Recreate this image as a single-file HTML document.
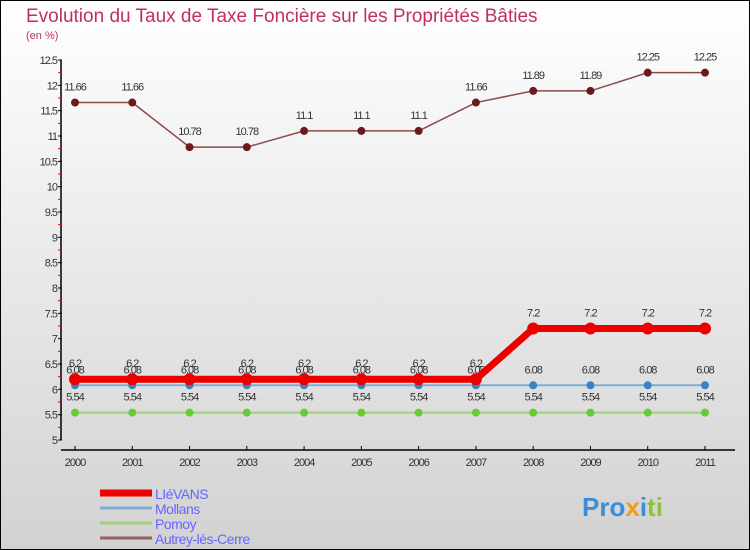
<!DOCTYPE html>
<html><head><meta charset="utf-8"><style>
body{margin:0}
#c{width:750px;height:550px;position:relative;box-sizing:border-box;border:1px solid #000;background:linear-gradient(#fff,#d2d2d2);font-family:"Liberation Sans",sans-serif;overflow:hidden}
</style></head><body>
<div id="c">
<svg id="s" width="750" height="550" style="position:absolute;left:-1px;top:-1px">
<text x="26" y="22" font-size="19" fill="#c0305a">Evolution du Taux de Taxe Foncière sur les Propriétés Bâties</text>
<text x="26" y="39" font-size="11" fill="#c0305a">(en %)</text>
</svg>
</div>
<script>
const years=["2000","2001","2002","2003","2004","2005","2006","2007","2008","2009","2010","2011"];
const llevans=[6.2,6.2,6.2,6.2,6.2,6.2,6.2,6.2,7.2,7.2,7.2,7.2];
const mollans=[6.08,6.08,6.08,6.08,6.08,6.08,6.08,6.08,6.08,6.08,6.08,6.08];
const pomoy=[5.54,5.54,5.54,5.54,5.54,5.54,5.54,5.54,5.54,5.54,5.54,5.54];
const autrey=[11.66,11.66,10.78,10.78,11.1,11.1,11.1,11.66,11.89,11.89,12.25,12.25];
const yTicks=[5,5.5,6,6.5,7,7.5,8,8.5,9,9.5,10,10.5,11,11.5,12,12.5];
const s=document.getElementById('s');const NS="http://www.w3.org/2000/svg";
const X=i=>75+i*(630/11);const Y=v=>440-(v-5)*(380/7.5);
function el(t,a,p){const e=document.createElementNS(NS,t);for(const k in a)e.setAttribute(k,a[k]);(p||s).appendChild(e);return e;}
let ax=el('line',{x1:61,y1:60,x2:61,y2:440,stroke:'#000','stroke-width':1.5});


let xa=el('line',{x1:61,y1:450,x2:735,y2:450,stroke:'#000','stroke-width':1.5});


yTicks.forEach(v=>{el('line',{x1:58,y1:Y(v),x2:62,y2:Y(v),stroke:'#000'});
if(v<12.5)el('line',{x1:58,y1:Y(v+0.25),x2:61,y2:Y(v+0.25),stroke:'#e00'});
const t=el('text',{x:57,y:Y(v)+4,'text-anchor':'end','font-size':11,fill:'#333','letter-spacing':'-1'});t.textContent=String(v);

});
years.forEach((y,i)=>{el('line',{x1:X(i),y1:446,x2:X(i),y2:450,stroke:'#000'});
const t=el('text',{x:X(i),y:466,'text-anchor':'middle','font-size':11,fill:'#333','letter-spacing':'-1'});t.textContent=y;

});
function series(d,col,w,r,dot,name){
const g=el('g',{});


el('polyline',{points:d.map((v,i)=>X(i)+','+Y(v)).join(' '),fill:'none',stroke:col,'stroke-width':w},g);
d.forEach((v,i)=>{el('circle',{cx:X(i),cy:Y(v),r:r,fill:dot},g);
const t=el('text',{x:X(i),y:Y(v)-12,'text-anchor':'middle','font-size':11,fill:'#333','letter-spacing':'-1'},g);t.textContent=String(v);});}
series(pomoy,'#9ed07a',2,4,'#6c3','series-pomoy');
series(mollans,'#7ab0d8',2,4,'#3a82c4','series-mollans');
series(llevans,'#e00',7,6,'#e00','series-llevans');
series(autrey,'#8b4a4a',1.5,4,'#6a1a1a','series-autrey');
const leg=[['LIéVANS','#e00',7],['Mollans','#7ab0d8',3],['Pomoy','#9ed07a',3],['Autrey-lès-Cerre','#9a6060',3]];
leg.forEach((l,i)=>{const y=493+i*15;
const g=el('g',{});


el('line',{x1:100,y1:y,x2:152,y2:y,stroke:l[1],'stroke-width':l[2]},g);
const t=el('text',{x:155,y:y+6,'font-size':14,fill:'#66f','letter-spacing':'-0.5'},g);t.textContent=l[0];});
const lg=el('text',{x:582,y:516,'font-size':26,'font-weight':'bold',fill:'#3a8fd8'});
lg.innerHTML='Pro<tspan fill="#f39a1a">x</tspan>i<tspan fill="#8ac43f">ti</tspan>';


</script>
</body></html>
